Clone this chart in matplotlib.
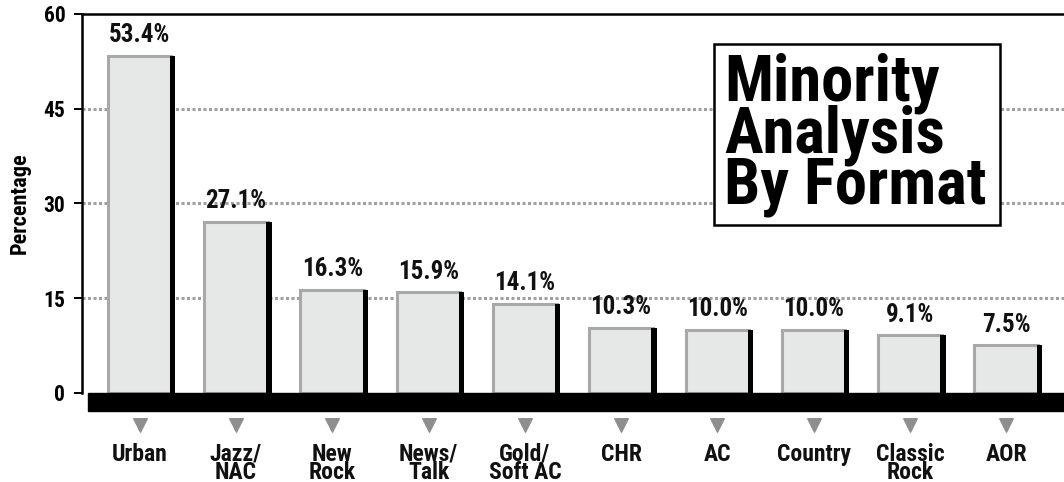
import matplotlib
matplotlib.use('Agg')
import matplotlib.pyplot as plt
import matplotlib.transforms as mtransforms
from matplotlib.patches import Rectangle
import numpy as np

formats = ['Urban', 'Jazz/\nNAC', 'New\nRock', 'News/\nTalk', 'Gold/\nSoft AC',
           'CHR', 'AC', 'Country', 'Classic\nRock', 'AOR']
shares = [53.4, 27.1, 16.3, 15.9, 14.1, 10.3, 10.0, 10.0, 9.1, 7.5]
yticks = [0, 15, 30, 45, 60]

plt.rcParams['font.family'] = ['Roboto Condensed', 'Archivo Narrow',
                               'IBM Plex Sans Condensed', 'DejaVu Sans']
plt.rcParams['font.weight'] = 'bold'

fig = plt.figure(figsize=(10.64, 4.82), dpi=100)
ax = fig.add_axes([0.077, 0.185, 0.923, 0.786])

x = np.arange(len(formats))
bw = 0.66

# dotted grid
for y in yticks[1:-1]:
    ax.axhline(y, color='#a0a0a0', lw=2.2, ls=(0, (1, 0.8)), zorder=0)

# bars with a black shadow edge on the right
ax.bar(x, shares, width=bw, color='#e6e8e8', edgecolor='#a8a8a8', lw=2.2, zorder=2)
ax.bar(x + bw / 2 + 0.012, shares, width=0.055, color='black', zorder=3)

for xi, v in zip(x, shares):
    ax.text(xi, v + 1.4, f'{v:.1f}%', ha='center', va='bottom', fontsize=18,
            fontweight='bold', color='#111111')

ax.set_xlim(-0.6, 9.6)
ax.set_ylim(0, 60)
ax.set_yticks(yticks)
ax.set_yticklabels([str(t) for t in yticks], fontsize=15.5, fontweight='bold')
ax.tick_params(axis='y', length=6, width=1.4, pad=6)
ax.set_xticks([])
ax.set_ylabel('Percentage', fontsize=16, fontweight='bold', labelpad=9)

for s in ['right', 'bottom']:
    ax.spines[s].set_visible(False)
ax.spines['left'].set_linewidth(1.8)
ax.spines['top'].set_linewidth(1.8)

# black baseline slab under the bars
trans = mtransforms.blended_transform_factory(ax.transAxes, ax.transData)
ax.add_patch(Rectangle((0.006, -2.8), 1.0, 2.8, transform=trans, color='black',
                       clip_on=False, zorder=4))

# markers and category names below the slab
ax.scatter(x, np.full(len(x), -5.1), marker='v', s=95, color='#8e8e8e',
           clip_on=False, zorder=4)
for xi, name in zip(x, formats):
    ax.text(xi, -7.9, name, ha='center', va='top', fontsize=17, fontweight='bold',
            linespacing=0.72, color='#111111')

# title box
ax.add_patch(Rectangle((0.6436, 0.443), 0.2914, 0.478, transform=ax.transAxes,
                       fc='white', ec='black', lw=1.8, zorder=6))
ax.text(0.654, 0.897, 'Minority\nAnalysis\nBy Format', transform=ax.transAxes,
        ha='left', va='top', fontsize=46.5, fontweight='black', linespacing=0.79,
        zorder=7)

fig.savefig('out.png', dpi=100)
